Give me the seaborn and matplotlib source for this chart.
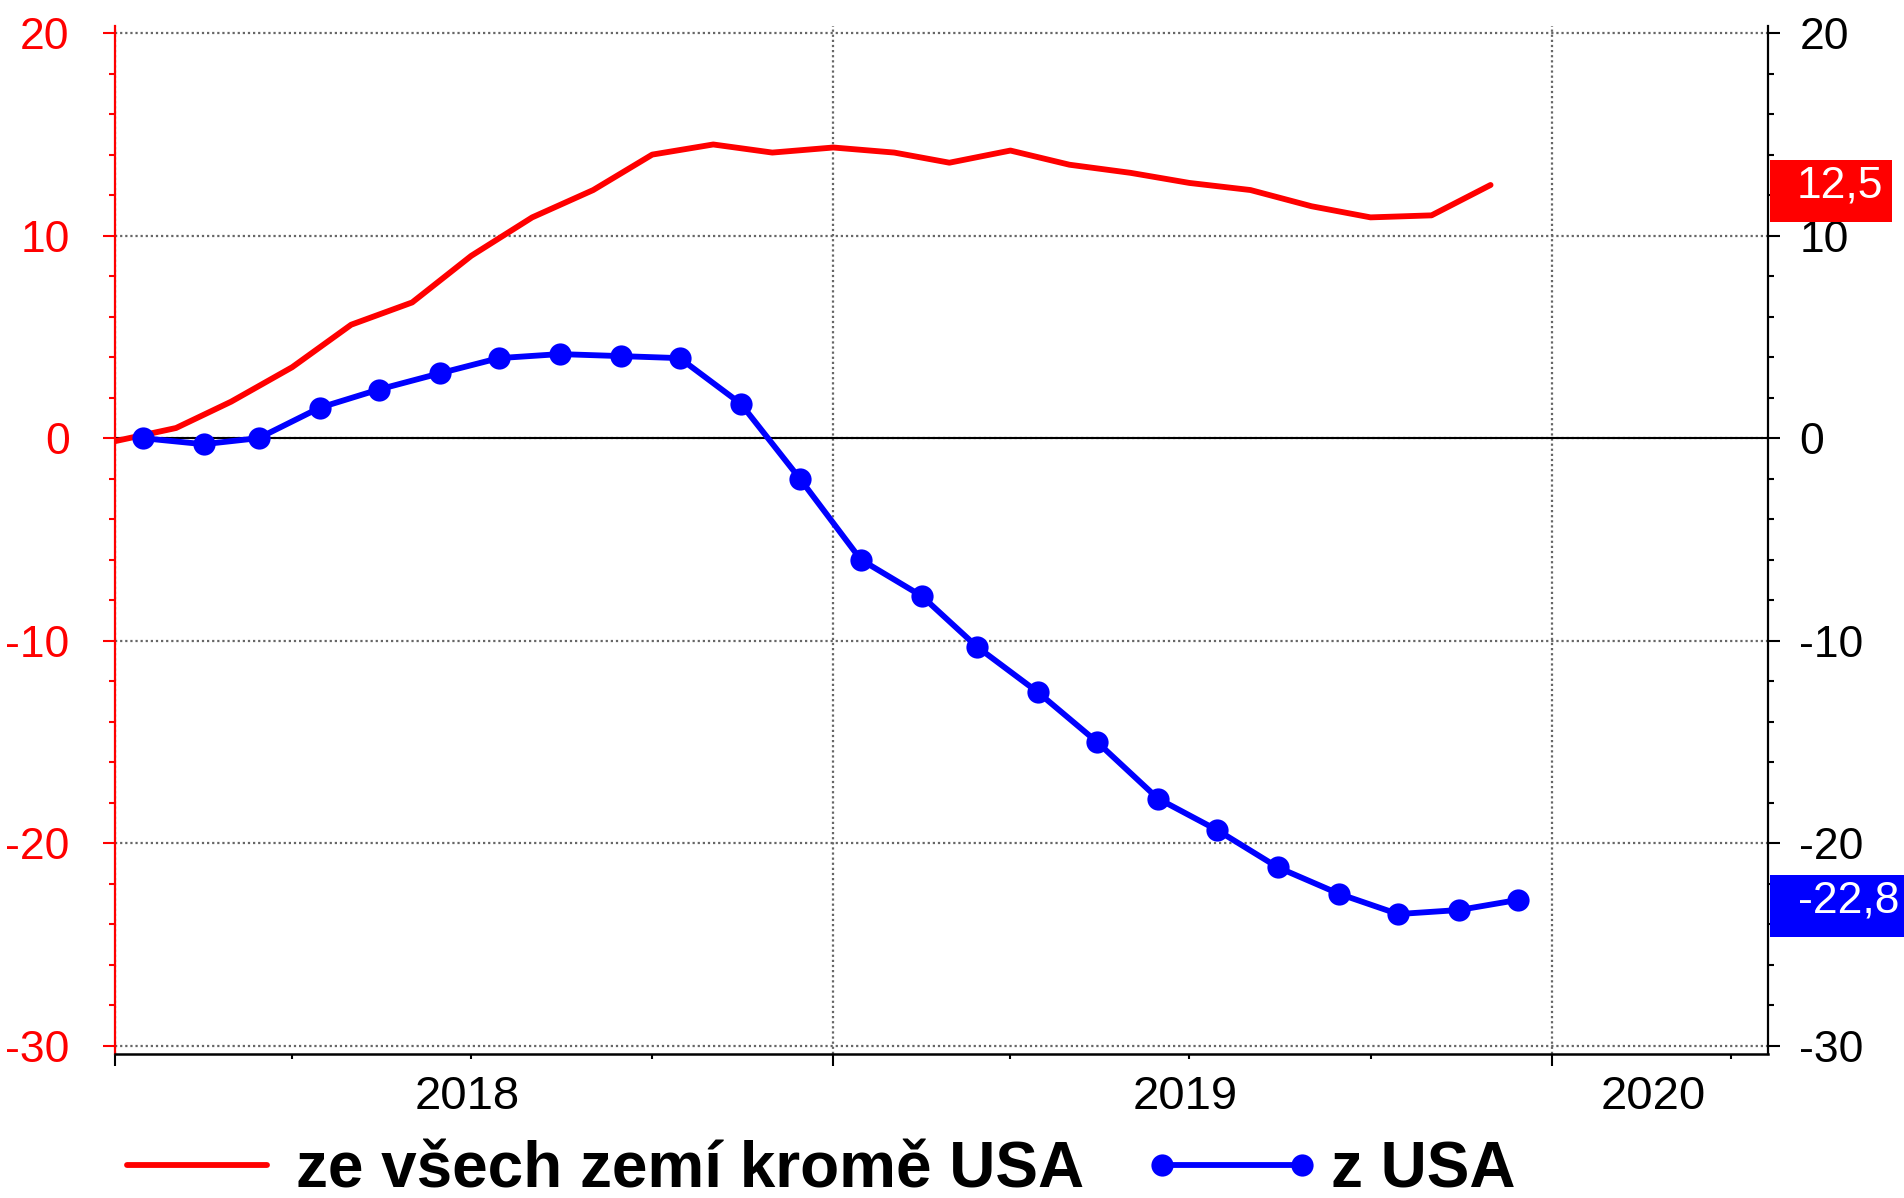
import pandas as pd
import matplotlib
matplotlib.use("Agg")
import matplotlib.pyplot as plt
import matplotlib.dates as mdates
import matplotlib.transforms as mtransforms
from matplotlib.ticker import MultipleLocator, NullFormatter
from matplotlib.patches import Rectangle
import seaborn as sns

### Data
months = pd.date_range("2018-01-01", "2019-12-01", freq="MS")
red_vals = [-0.15, 0.5, 1.8, 3.5, 5.6, 6.7, 9.0, 10.9, 12.25, 14.0, 14.5, 14.1,
            14.35, 14.1, 13.6, 14.2, 13.5, 13.1, 12.6, 12.25, 11.45, 10.9, 11.0, 12.5]
blue_vals = [0.0, -0.3, 0.0, 1.5, 2.4, 3.2, 3.95, 4.15, 4.05, 3.95, 1.7, -2.0,
             -6.0, -7.8, -10.3, -12.55, -15.0, -17.8, -19.35, -21.2, -22.5, -23.5, -23.3, -22.8]
red_label = "ze všech zemí kromě USA"
blue_label = "z USA"
red_badge = "12,5"
blue_badge = "-22,8"
years = [2018, 2019, 2020]
y_major = [-30, -20, -10, 0, 10, 20]

RED = "#ff0000"
BLUE = "#0000ff"
GRID = "#666666"

sns.set_theme(style="white")
plt.rcParams["font.family"] = ["Liberation Sans", "DejaVu Sans"]
plt.rcParams["axes.unicode_minus"] = False
plt.rcParams["text.color"] = "black"

fig = plt.figure(figsize=(19.04, 11.98), dpi=100)
ax = fig.add_axes([0.0604, 0.1202, 0.8682, 0.8581])

df_red = pd.DataFrame({"date": months, "value": red_vals})
df_blue = pd.DataFrame({"date": months + pd.Timedelta(days=14), "value": blue_vals})

ax.axhline(0, color="black", lw=1.5, zorder=1.5)
sns.lineplot(data=df_red, x="date", y="value", color=RED, linewidth=4.2, ax=ax,
             label=red_label, zorder=3)
sns.lineplot(data=df_blue, x="date", y="value", color=BLUE, linewidth=4.2, marker="o",
             markersize=16, markeredgewidth=0, ax=ax, label=blue_label, zorder=4)
handles, labels = ax.get_legend_handles_labels()
ax.get_legend().remove()

# Axes ranges
ylim = (-30.41, 20.35)
xlim = (pd.Timestamp("2018-01-01"), pd.Timestamp("2020-04-20"))
ax.set_xlim(xlim)
ax.set_ylim(ylim)
ax.set_xlabel(""); ax.set_ylabel("")

# Grid
dots = (0, (1, 1.3))
ax.yaxis.grid(True, which="major", linestyle=dots, color=GRID, lw=1.6, zorder=1)
ax.xaxis.grid(True, which="major", linestyle=dots, color=GRID, lw=1.6, zorder=1)

# Spines
for s in ["top", "right"]:
    ax.spines[s].set_visible(False)
ax.spines["left"].set_color(RED)
ax.spines["left"].set_linewidth(1.6)
ax.spines["bottom"].set_color("black")
ax.spines["bottom"].set_linewidth(1.8)

# Left y axis (red)
ax.set_yticks(y_major)
ax.yaxis.set_minor_locator(MultipleLocator(2))
ax.tick_params(axis="y", which="major", direction="out", length=8.6, width=1.5,
               color=RED, labelcolor=RED, labelsize=32, pad=24, left=True)
ax.tick_params(axis="y", which="minor", direction="out", length=4.3, width=1.5,
               color=RED, left=True)

# X axis: year ticks long, quarter ticks short, labels in middle of years
ax.xaxis.set_major_locator(mdates.YearLocator())
ax.xaxis.set_major_formatter(NullFormatter())
ax.xaxis.set_minor_locator(mdates.MonthLocator(bymonth=[1, 4, 7, 10]))
ax.xaxis.set_minor_formatter(NullFormatter())
ax.tick_params(axis="x", which="major", direction="out", length=8.6, width=1.5,
               color="black", bottom=True)
ax.tick_params(axis="x", which="minor", direction="out", length=3.8, width=1.5,
               color="black", bottom=True)
trans_x = mtransforms.blended_transform_factory(ax.transData, ax.transAxes)
trans_x = trans_x + mtransforms.ScaledTranslation(-0.07, 0, fig.dpi_scale_trans)
for yr in years:
    start = max(pd.Timestamp(f"{yr}-01-01"), xlim[0])
    end = min(pd.Timestamp(f"{yr + 1}-01-01"), xlim[1])
    mid = start + (end - start) / 2
    ax.text(mdates.date2num(mid), -0.0204, str(yr), transform=trans_x,
            ha="center", va="top", fontsize=34, color="black")

# Right y axis (black)
ax2 = ax.twinx()
ax2.set_ylim(ylim)
ax2.set_yticks(y_major)
ax2.yaxis.set_minor_locator(MultipleLocator(2))
ax2.grid(False)
for s in ["top", "left", "bottom"]:
    ax2.spines[s].set_visible(False)
ax2.spines["right"].set_color("black")
ax2.spines["right"].set_linewidth(1.6)
ax2.tick_params(axis="y", which="major", direction="out", length=8.6, width=1.5,
                color="black", labelcolor="black", labelsize=32, pad=14, right=True)
ax2.tick_params(axis="y", which="minor", direction="out", length=4.3, width=1.5,
                color="black", right=True)

# Value badges at the right edge
trans_b = mtransforms.blended_transform_factory(fig.transFigure, ax.transData)
for val, txt, color, x1, xt in [(red_vals[-1], red_badge, RED, 0.9937, 0.9890),
                                (blue_vals[-1], blue_badge, BLUE, 1.0, 0.9974)]:
    rect = Rectangle((0.9296, val - 1.85), x1 - 0.9296, 3.09, transform=trans_b,
                     facecolor=color, edgecolor="none", clip_on=False, zorder=10)
    fig.add_artist(rect)
    fig.text(xt, val - 0.6, txt, transform=trans_b, ha="right", va="baseline",
             color="white", fontsize=32, zorder=11)

# Legend
fig.legend(handles, labels, loc="center left", bbox_to_anchor=(108 / 1904, 1 - 1170 / 1198),
           ncol=2, frameon=False, prop={"weight": "bold", "size": 46}, numpoints=2,
           labelcolor="black", handlelength=2.79, handletextpad=0.16, columnspacing=0.91,
           borderpad=0, borderaxespad=0)

fig.savefig("out.png", dpi=100)
